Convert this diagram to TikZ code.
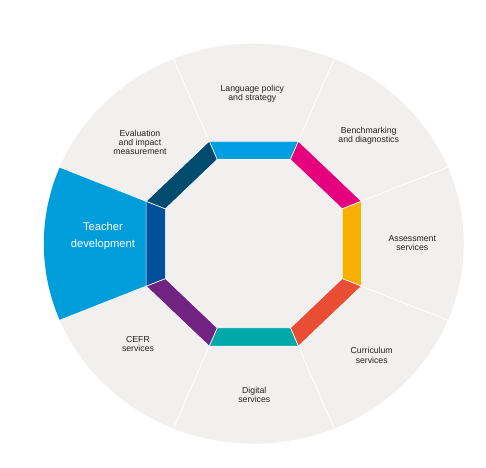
\documentclass[tikz,border=0pt]{standalone}
\usepackage{fontspec}
\setmainfont{Liberation Sans}
\definecolor{greybg}{HTML}{F1F0EF}
\definecolor{tdblue}{HTML}{009DDB}
\definecolor{segTop}{HTML}{009EE2}
\definecolor{segTR}{HTML}{E5007D}
\definecolor{segR}{HTML}{F8B000}
\definecolor{segBR}{HTML}{E94E35}
\definecolor{segB}{HTML}{00A8A8}
\definecolor{segBL}{HTML}{702381}
\definecolor{segL}{HTML}{00509E}
\definecolor{segTL}{HTML}{004B6E}
\definecolor{txt}{HTML}{222222}
\tikzset{
  lbl/.style={align=center, text=txt, inner sep=0pt, font=\fontsize{8.7}{9.2}\selectfont},
  bigl/.style={align=center, text=white, inner sep=0pt, font=\fontsize{11.2}{17}\selectfont},
  seg/.style={draw=white, line width=0.6pt},
  sep/.style={draw=white, line width=0.8pt}
}
\begin{document}
\begin{tikzpicture}[x=1pt,y=1pt]
\useasboundingbox (0,0) rectangle (486,467);
\begin{scope}[shift={(253.8,223.3)}, xscale=1.05]
  \def\Ro{110.95}
  \def\Ri{91.14}
  \fill[greybg] (0,0) circle (200);
  \fill[tdblue] (157.5:\Ro) -- (157.5:200) arc[start angle=157.5, end angle=202.5, radius=200] -- (202.5:\Ro) -- cycle;
  \foreach \a in {22.5,67.5,...,337.5}
    \draw[sep] (\a:\Ro) -- (\a:200);
  \foreach \a/\c in {90/segTop,45/segTR,0/segR,-45/segBR,-90/segB,-135/segBL,180/segL,135/segTL}
    \fill[\c, seg] ({\a-22.5}:\Ro) -- ({\a+22.5}:\Ro) -- ({\a+22.5}:\Ri) -- ({\a-22.5}:\Ri) -- cycle;
\end{scope}
\node[lbl] (lang) at (252.3,373.5) {Language policy\\and strategy};
\node[lbl] (bench) at (368.7,331.5) {Benchmarking\\and diagnostics};
\node[lbl] (assess) at (412.3,223.8) {Assessment\\services};
\node[lbl] (curr) at (371.7,111.7) {Curriculum\\services};
\node[lbl] (digi) at (254.3,72.5) {Digital\\services};
\node[lbl] (cefr) at (138,123) {CEFR\\services};
\node[lbl] (eval) at (140,324.8) {Evaluation\\and impact\\measurement};
\node[bigl] (teach) at (103,230.5) {Teacher\\development};
\end{tikzpicture}
\end{document}
